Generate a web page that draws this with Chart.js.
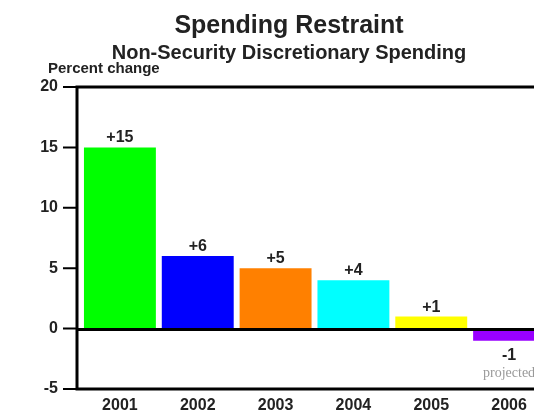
<!DOCTYPE html>
<html>
<head>
<meta charset="utf-8">
<title>Spending Restraint</title>
<script src="https://cdn.jsdelivr.net/npm/chart.js@4.4.1/dist/chart.umd.min.js"></script>
<style>
  html, body { margin: 0; padding: 0; background: #fff; overflow: hidden; }
  #wrap { width: 578px; height: 414px; }
</style>
</head>
<body>
<div id="wrap"><canvas id="myChart"></canvas></div>
<script>
let years = ['2001', '2002', '2003', '2004', '2005', '2006'];
let percent_change = [15, 6, 5, 4, 1, -1];
let bar_colors = ['#00ff00', '#0000ff', '#ff8000', '#00ffff', '#ffff00', '#9900ff'];
let bar_notes = ['', '', '', '', '', 'projected'];
let y_ticks = [-5, 0, 5, 10, 15, 20];

const FONT = '"Liberation Sans", Arial, Helvetica, sans-serif';

// frame, zero line, tick marks and value labels
const framePlugin = {
    id: 'frame',
    afterDatasetsDraw(chart) {
        const ctx = chart.ctx;
        const area = chart.chartArea;
        const y = chart.scales.y;
        const ax = area.left - 4;
        ctx.save();
        ctx.strokeStyle = '#000';
        ctx.lineWidth = 3;
        ctx.beginPath();
        ctx.moveTo(chart.width, area.top);
        ctx.lineTo(ax, area.top);
        ctx.lineTo(ax, area.bottom);
        ctx.lineTo(chart.width, area.bottom);
        ctx.stroke();

        let y0 = y.getPixelForValue(0);
        ctx.beginPath();
        ctx.moveTo(ax, y0 + 1);
        ctx.lineTo(chart.width, y0 + 1);
        ctx.stroke();

        ctx.lineWidth = 2;
        ctx.beginPath();
        y_ticks.forEach(v => {
            let py = y.getPixelForValue(v);
            ctx.moveTo(ax - 14, py);
            ctx.lineTo(ax, py);
        });
        ctx.stroke();

        let meta = chart.getDatasetMeta(0);
        ctx.textAlign = 'center';
        ctx.textBaseline = 'alphabetic';
        meta.data.forEach((bar, i) => {
            let v = percent_change[i];
            let txt = v > 0 ? '+' + v : String(v);
            ctx.font = 'bold 16px ' + FONT;
            ctx.fillStyle = '#222';
            if (v >= 0) {
                ctx.fillText(txt, bar.x, bar.y - 5);
            } else {
                ctx.fillText(txt, bar.x, bar.y + 19);
            }
            if (bar_notes[i]) {
                ctx.font = '14px "Liberation Serif", "DejaVu Serif", serif';
                ctx.fillStyle = '#999';
                ctx.fillText(bar_notes[i], bar.x, bar.y + 36);
            }
        });

        ctx.font = 'bold 15px ' + FONT;
        ctx.fillStyle = '#222';
        ctx.textAlign = 'left';
        ctx.fillText('Percent change', 48, 73);
        ctx.restore();
    }
};

function myChart() {
    let ctx = document.getElementById('myChart').getContext('2d');
    let chart = new Chart(ctx, {
        type: 'bar',
        data: {
            labels: years,
            datasets: [{
                data: percent_change,
                backgroundColor: bar_colors,
                borderWidth: 0,
                barPercentage: 0.924,
                categoryPercentage: 1
            }]
        },
        options: {
            responsive: true,
            maintainAspectRatio: false,
            animation: false,
            layout: {
                padding: { top: 0, right: 30, bottom: 0, left: 30 }
            },
            plugins: {
                legend: { display: false },
                tooltip: { enabled: false },
                title: {
                    display: true,
                    text: 'Spending Restraint',
                    color: '#222',
                    font: { family: FONT, size: 25, weight: 'bold' },
                    padding: { top: 11, bottom: 0 }
                },
                subtitle: {
                    display: true,
                    text: 'Non-Security Discretionary Spending',
                    color: '#222',
                    font: { family: FONT, size: 20, weight: 'bold' },
                    padding: { top: 0, bottom: 22 }
                }
            },
            scales: {
                x: {
                    grid: { display: false, drawTicks: false },
                    border: { display: false },
                    ticks: {
                        color: '#222',
                        font: { family: FONT, size: 16, weight: 'bold' },
                        padding: 7,
                        maxRotation: 0
                    },
                    afterFit(scale) { scale.height = 25; }
                },
                y: {
                    min: -5,
                    max: 20,
                    grid: {
                        display: true,
                        drawOnChartArea: false,
                        drawTicks: true,
                        tickLength: 8,
                        color: 'rgba(0,0,0,0)'
                    },
                    border: { display: false },
                    ticks: {
                        stepSize: 5,
                        color: '#222',
                        font: { family: FONT, size: 16, weight: 'bold' },
                        padding: 15
                    },
                    afterFit(scale) { scale.width = 51; }
                }
            }
        },
        plugins: [framePlugin]
    });
}
myChart()
</script>
</body>
</html>
